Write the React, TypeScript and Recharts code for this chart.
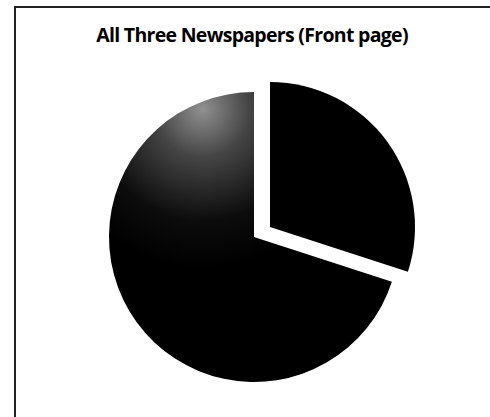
import React from 'react';
import { PieChart, Pie, Cell } from 'recharts';

// front page share (clockwise from 12 o'clock)
const categories = ['Slice A', 'Slice B'];
const values = [30, 70];

const data = categories.map((name, i) => ({ name, value: values[i] }));

const CX = 254;
const CY = 237;
const R = 145;
const EXPLODE_DX = 16;
const EXPLODE_DY = -10;

export default function App() {
  return (
    <div style={{ position: 'absolute', left: 0, top: 0, width: 490, height: 417, background: '#fff', overflow: 'hidden' }}>
      <div
        style={{
          position: 'absolute',
          left: 14,
          top: 6,
          width: 500,
          height: 430,
          borderLeft: '2px solid #222',
          borderTop: '2px solid #222',
        }}
      />
      <div
        style={{
          position: 'absolute',
          left: 0,
          width: 504,
          top: 21,
          textAlign: 'center',
          fontFamily: '"Open Sans", sans-serif',
          fontWeight: 700,
          fontSize: 19.5,
          letterSpacing: -0.7,
          color: '#000',
        }}
      >
        All Three Newspapers (Front page)
      </div>
      <PieChart
        width={490}
        height={417}
        margin={{ top: 0, right: 0, bottom: 0, left: 0 }}
        style={{ position: 'absolute', left: 0, top: 0 }}
      >
        <defs>
          <radialGradient id="mainShade" cx="0.33" cy="0.06" r="0.55">
            <stop offset="0" stopColor="#909090" />
            <stop offset="0.3" stopColor="#454545" />
            <stop offset="0.7" stopColor="#0c0c0c" />
            <stop offset="1" stopColor="#000" />
          </radialGradient>
        </defs>
        <Pie
          data={data}
          dataKey="value"
          nameKey="name"
          cx={CX}
          cy={CY}
          outerRadius={R}
          startAngle={90}
          endAngle={-270}
          stroke="none"
          isAnimationActive={false}
        >
          {data.map((d, i) => (
            <Cell key={`main-${i}`} fill={i === 1 ? 'url(#mainShade)' : 'transparent'} />
          ))}
        </Pie>
        <Pie
          data={data}
          dataKey="value"
          nameKey="name"
          cx={CX + EXPLODE_DX}
          cy={CY + EXPLODE_DY}
          outerRadius={R}
          startAngle={90}
          endAngle={-270}
          stroke="none"
          isAnimationActive={false}
        >
          {data.map((d, i) => (
            <Cell key={`exp-${i}`} fill={i === 0 ? '#000' : 'transparent'} />
          ))}
        </Pie>
      </PieChart>
    </div>
  );
}
